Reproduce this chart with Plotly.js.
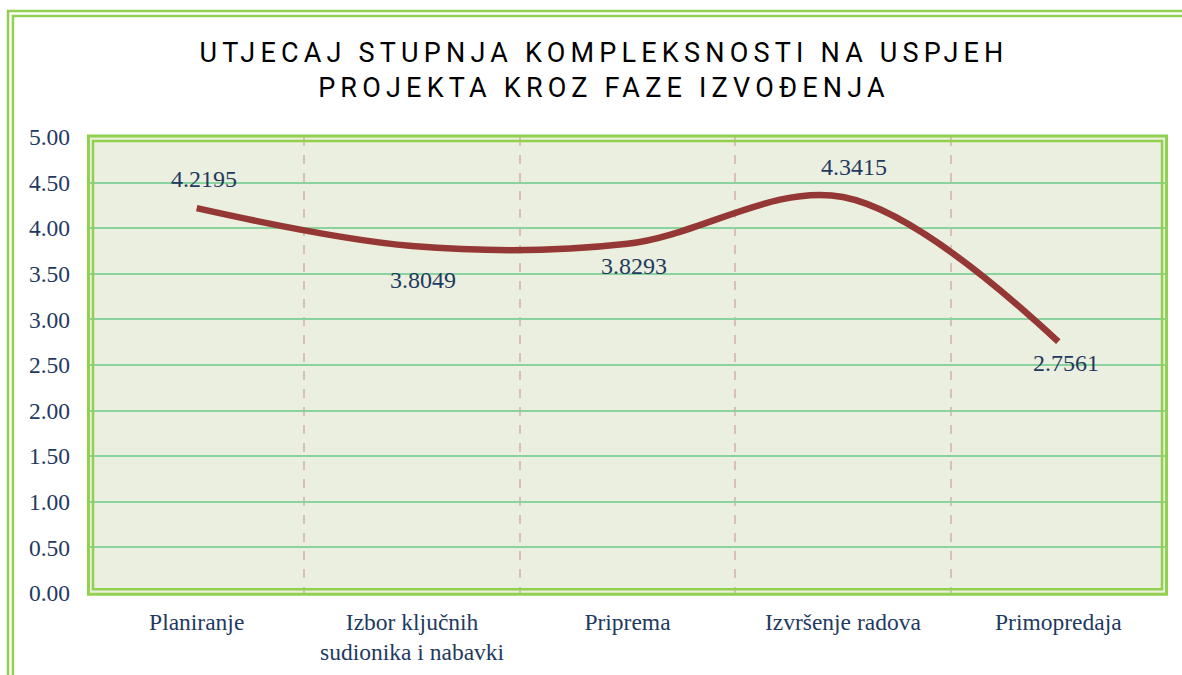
<!DOCTYPE html>
<html>
<head>
<meta charset="utf-8">
<script src="https://cdn.plot.ly/plotly-3.0.1.min.js"></script>
<style>
  html, body { margin: 0; padding: 0; background: #ffffff; }
  #chart { width: 1182px; height: 675px; }
  .gtitle { letter-spacing: 5.2px; }
</style>
</head>
<body>
<div id="chart"></div>
<script>
// ---- data ----
const categories = [
  'Planiranje',
  'Izbor ključnih<br>sudionika i nabavki',
  'Priprema',
  'Izvršenje radova',
  'Primopredaja'
];
const values = [4.2195, 3.8049, 3.8293, 4.3415, 2.7561];
const labelTexts = ['4.2195', '3.8049', '3.8293', '4.3415', '2.7561'];
const yTickValues = [0, 0.5, 1, 1.5, 2, 2.5, 3, 3.5, 4, 4.5, 5];

// ---- label styling (offsets in px) ----
const labelDx = [7, 11, 6, 11, 8];
const labelDy = [29, -34, -22, 30, -21];

const textColor = '#1F3A60';
const serif = '"Liberation Serif", "Times New Roman", serif';
const green = '#92D050';

const annotations = values.map((v, i) => ({
  x: categories[i], y: v, xref: 'x', yref: 'y',
  text: labelTexts[i], showarrow: false,
  xshift: labelDx[i], yshift: labelDy[i],
  font: { family: serif, size: 24, color: textColor }
}));

function rect(x0, y0, x1, y1, w) {
  return { type: 'rect', xref: 'paper', yref: 'paper', x0, y0, x1, y1,
           line: { color: green, width: w }, fillcolor: 'rgba(0,0,0,0)', layer: 'above' };
}

const shapes = [
  // outer chart frame (double line)
  rect(-0.0752, -0.30, 1.08, 1.2761, 2.5),
  rect(-0.0706, -0.30, 1.07, 1.2652, 2.5),
  // plot area frame (double line)
  rect(-0.0005, -0.0026, 1.0005, 1.0022, 3),
  rect(0.0037, 0.0083, 0.9963, 0.9912, 2.5)
];

const trace = {
  type: 'scatter', mode: 'lines',
  x: categories, y: values,
  line: { shape: 'spline', smoothing: 1, color: '#953735', width: 6.5 },
  hoverinfo: 'skip'
};

const layout = {
  width: 1182, height: 675,
  margin: { l: 89, r: 16, t: 137, b: 82 },
  paper_bgcolor: '#ffffff',
  plot_bgcolor: '#EBEFDF',
  showlegend: false,
  title: {
    text: 'UTJECAJ STUPNJA KOMPLEKSNOSTI NA USPJEH<br>PROJEKTA KROZ FAZE IZVOĐENJA',
    font: { family: 'Roboto, "DejaVu Sans", sans-serif', size: 27, color: '#000000' },
    x: 0.511, xanchor: 'center', y: 0.908, yanchor: 'middle', yref: 'container'
  },
  xaxis: {
    type: 'category',
    range: [-0.5, 4.5],
    tickson: 'boundaries',
    showgrid: true, gridcolor: '#D9C0B4', gridwidth: 2, griddash: 'dash',
    ticks: '', showline: false, zeroline: false,
    tickfont: { family: serif, size: 23.5, color: textColor },
    ticklabelstandoff: 12,
    fixedrange: true
  },
  yaxis: {
    range: [0, 5],
    tickvals: yTickValues,
    tickformat: '.2f',
    showgrid: true, gridcolor: '#8AD39F', gridwidth: 2,
    zeroline: false, showline: false, ticks: '',
    tickfont: { family: serif, size: 23.5, color: textColor },
    ticklabelstandoff: 18,
    fixedrange: true
  },
  annotations: annotations,
  shapes: shapes
};

Plotly.newPlot('chart', [trace], layout, { displayModeBar: false, staticPlot: true });
</script>
</body>
</html>
